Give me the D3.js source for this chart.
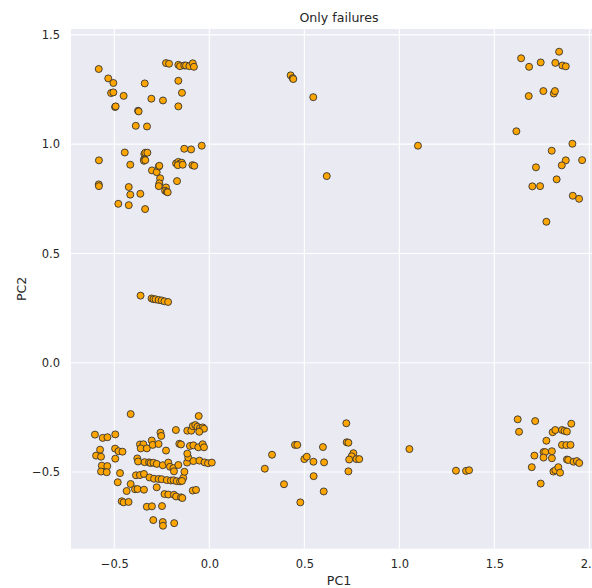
<!DOCTYPE html>
<html>
<head>
<meta charset="utf-8">
<script src="https://cdn.jsdelivr.net/npm/d3@7"></script>
<style>
	body { margin: 0; background: #fff; }
	svg { display: block; font-family: "DejaVu Sans", sans-serif; }
</style>
</head>
<body>
<div id="chart"></div>
<script>
// PCA points of failed runs, [PC1, PC2], grouped by cluster
var upperLeft = [
	[-0.582,1.344],[-0.532,1.301],[-0.505,1.280],[-0.517,1.234],[-0.505,1.237],[-0.496,1.170],[-0.493,1.173],
	[-0.451,1.221],[-0.375,1.153],[-0.372,1.150],[-0.387,1.084],[-0.328,1.081],[-0.340,1.278],[-0.305,1.208],
	[-0.244,1.200],[-0.228,1.371],[-0.212,1.368],[-0.163,1.363],[-0.154,1.357],[-0.132,1.360],[-0.123,1.360],
	[-0.105,1.357],[-0.087,1.370],[-0.081,1.354],[-0.163,1.290],[-0.144,1.235],[-0.163,1.173],
	[-0.581,0.926],[-0.445,0.962],[-0.416,0.906],[-0.342,0.955],[-0.337,0.961],[-0.326,0.961],[-0.344,0.930],
	[-0.344,0.924],[-0.337,0.927],[-0.302,0.880],[-0.277,0.872],[-0.266,0.898],[-0.263,0.901],[-0.259,0.844],
	[-0.263,0.821],[-0.266,0.808],[-0.228,0.802],[-0.233,0.787],[-0.224,0.782],[-0.219,0.780],[-0.170,0.831],
	[-0.424,0.804],[-0.416,0.769],[-0.363,0.773],[-0.479,0.727],[-0.424,0.721],[-0.338,0.703],[-0.582,0.816],
	[-0.581,0.808],[-0.132,0.979],[-0.096,0.976],[-0.040,0.993],[-0.175,0.912],[-0.163,0.919],[-0.154,0.912],
	[-0.145,0.915],[-0.166,0.904],[-0.140,0.906],[-0.089,0.904],[-0.079,0.901]
];

var upperMiddle = [
	[0.428,1.315],[0.439,1.302],[0.442,1.298],[0.547,1.215],[0.618,0.854],[1.098,0.993]
];

var upperRight = [
	[1.841,1.423],[1.641,1.393],[1.683,1.354],[1.744,1.374],[1.821,1.372],[1.858,1.360],[1.876,1.356],
	[1.681,1.220],[1.758,1.243],[1.813,1.232],[1.819,1.243],[1.616,1.059],[1.911,1.002],[1.802,0.970],
	[1.962,0.927],[1.876,0.926],[1.855,0.903],[1.719,0.894],[1.700,0.807],[1.741,0.808],[1.828,0.839],
	[1.913,0.764],[1.946,0.750],[1.774,0.645]
];

var middleRow = [
	[-0.362,0.307],[-0.304,0.294],[-0.294,0.291],[-0.283,0.290],[-0.267,0.287],[-0.251,0.285],[-0.236,0.281],[-0.217,0.278]
];

var lowerLeft = [
	[-0.414,-0.235],[-0.602,-0.329],[-0.561,-0.344],[-0.536,-0.341],[-0.495,-0.328],[-0.575,-0.398],[-0.596,-0.425],
	[-0.570,-0.430],[-0.496,-0.393],[-0.478,-0.405],[-0.457,-0.407],[-0.495,-0.439],[-0.566,-0.471],[-0.537,-0.473],
	[-0.570,-0.498],[-0.540,-0.501],[-0.470,-0.505],[-0.482,-0.547],[-0.414,-0.555],[-0.435,-0.587],[-0.391,-0.579],
	[-0.378,-0.578],[-0.344,-0.581],[-0.461,-0.634],[-0.451,-0.639],[-0.425,-0.637],[-0.329,-0.659],[-0.302,-0.657],
	[-0.295,-0.720],[-0.249,-0.656],[-0.245,-0.729],[-0.244,-0.746],[-0.185,-0.734],[-0.277,-0.570],[-0.365,-0.374],
	[-0.347,-0.373],[-0.361,-0.392],[-0.329,-0.392],[-0.303,-0.356],[-0.298,-0.376],[-0.267,-0.372],[-0.257,-0.320],
	[-0.253,-0.335],[-0.228,-0.402],[-0.379,-0.438],[-0.375,-0.452],[-0.341,-0.455],[-0.317,-0.456],[-0.309,-0.459],
	[-0.294,-0.458],[-0.277,-0.463],[-0.245,-0.469],[-0.216,-0.457],[-0.207,-0.476],[-0.189,-0.482],[-0.186,-0.497],
	[-0.163,-0.468],[-0.386,-0.515],[-0.365,-0.514],[-0.344,-0.509],[-0.315,-0.525],[-0.291,-0.531],[-0.267,-0.532],
	[-0.251,-0.533],[-0.224,-0.537],[-0.202,-0.539],[-0.188,-0.538],[-0.172,-0.542],[-0.154,-0.543],[-0.137,-0.527],
	[-0.144,-0.541],[-0.236,-0.601],[-0.216,-0.603],[-0.186,-0.604],[-0.175,-0.612],[-0.149,-0.616],[-0.142,-0.619],
	[-0.176,-0.308],[-0.158,-0.371],[-0.149,-0.374],[-0.131,-0.499],[-0.117,-0.457],[-0.111,-0.434],[-0.116,-0.416],
	[-0.116,-0.311],[-0.095,-0.311],[-0.087,-0.290],[-0.074,-0.285],[-0.063,-0.293],[-0.056,-0.244],[-0.049,-0.299],
	[-0.035,-0.296],[-0.028,-0.302],[-0.053,-0.316],[-0.102,-0.381],[-0.084,-0.378],[-0.058,-0.387],[-0.035,-0.373],
	[-0.028,-0.387],[-0.084,-0.450],[-0.052,-0.448],[-0.025,-0.456],[-0.007,-0.460],[0.013,-0.457],[-0.087,-0.585],
	[-0.070,-0.582]
];

var lowerMiddle = [
	[0.292,-0.485],[0.330,-0.421],[0.393,-0.556],[0.451,-0.376],[0.463,-0.376],[0.479,-0.639],[0.500,-0.441],
	[0.513,-0.430],[0.548,-0.453],[0.549,-0.519],[0.598,-0.386],[0.604,-0.456],[0.602,-0.589],[0.721,-0.277],
	[0.723,-0.364],[0.732,-0.366],[0.758,-0.414],[0.749,-0.428],[0.736,-0.443],[0.774,-0.441],[0.789,-0.441],
	[0.732,-0.497],[1.053,-0.395],[1.298,-0.494],[1.351,-0.495],[1.367,-0.492]
];

var lowerRight = [
	[1.623,-0.259],[1.630,-0.316],[1.715,-0.267],[1.774,-0.357],[1.807,-0.318],[1.821,-0.308],[1.856,-0.308],
	[1.869,-0.312],[1.882,-0.315],[1.905,-0.279],[1.856,-0.376],[1.879,-0.377],[1.901,-0.376],[1.759,-0.409],
	[1.768,-0.409],[1.803,-0.405],[1.711,-0.425],[1.759,-0.434],[1.803,-0.437],[1.882,-0.443],[1.889,-0.445],
	[1.917,-0.453],[1.934,-0.450],[1.947,-0.459],[1.697,-0.478],[1.811,-0.498],[1.821,-0.492],[1.837,-0.478],
	[1.846,-0.503],[1.744,-0.553]
];

var xTicks = [-0.5, 0.0, 0.5, 1.0, 1.5, 2.0],
	yTicks = [-0.5, 0.0, 0.5, 1.0, 1.5];

var xDomain = [-0.728, 2.093],
	yDomain = [-0.851, 1.527];

var points = [].concat(upperLeft, upperMiddle, upperRight, middleRow, lowerLeft, lowerMiddle, lowerRight);

// figure size + plot margins (plot runs off the right edge like the original)
var width = 592,
	height = 588,
	margin = { top: 29, right: -15, bottom: 39.3, left: 71 },
	innerW = width - margin.left - margin.right,
	innerH = height - margin.top - margin.bottom;

var svg = d3.select("#chart").append("svg")
	.attr("width", width)
	.attr("height", height);

var g = svg.append("g")
	.attr("transform", "translate(" + margin.left + "," + margin.top + ")");

var x = d3.scaleLinear().domain(xDomain).range([0, innerW]),
	y = d3.scaleLinear().domain(yDomain).range([innerH, 0]);

// background
g.append("rect")
	.attr("width", innerW)
	.attr("height", innerH)
	.attr("fill", "#eaeaf2");

// grid
g.append("g").selectAll("line").data(xTicks).join("line")
	.attr("x1", function (d) { return x(d); })
	.attr("x2", function (d) { return x(d); })
	.attr("y1", 0).attr("y2", innerH)
	.attr("stroke", "#fff").attr("stroke-width", 1.1);

g.append("g").selectAll("line").data(yTicks).join("line")
	.attr("y1", function (d) { return y(d); })
	.attr("y2", function (d) { return y(d); })
	.attr("x1", 0).attr("x2", innerW)
	.attr("stroke", "#fff").attr("stroke-width", 1.1);

// axes, no lines or tick marks (seaborn darkgrid)
var fmt = d3.format(".1f");

var xAxis = g.append("g")
	.attr("transform", "translate(0," + innerH + ")")
	.call(d3.axisBottom(x).tickValues(xTicks).tickFormat(fmt).tickSize(0).tickPadding(11));

var yAxis = g.append("g")
	.call(d3.axisLeft(y).tickValues(yTicks).tickFormat(fmt).tickSize(0).tickPadding(11));

[xAxis, yAxis].forEach(function (a) {
	a.select(".domain").remove();
	a.selectAll("text")
		.attr("fill", "#262626")
		.style("font-size", "11.5px")
		.style("font-family", "'DejaVu Sans', sans-serif");
});

// points
g.append("g").selectAll("circle").data(points).join("circle")
	.attr("cx", function (d) { return x(d[0]); })
	.attr("cy", function (d) { return y(d[1]); })
	.attr("r", 3.5)
	.attr("fill", "#ffa500")
	.attr("stroke", "#333")
	.attr("stroke-width", 0.9);

// title + labels
svg.append("text")
	.attr("x", margin.left + innerW / 2)
	.attr("y", 21.5)
	.attr("text-anchor", "middle")
	.attr("fill", "#262626")
	.style("font-size", "12.6px")
	.text("Only failures");

svg.append("text")
	.attr("x", margin.left + innerW / 2)
	.attr("y", 584.5)
	.attr("text-anchor", "middle")
	.attr("fill", "#262626")
	.style("font-size", "12.6px")
	.text("PC1");

svg.append("text")
	.attr("transform", "translate(25.5," + (margin.top + innerH / 2) + ") rotate(-90)")
	.attr("text-anchor", "middle")
	.attr("fill", "#262626")
	.style("font-size", "12.6px")
	.text("PC2");
</script>
</body>
</html>
